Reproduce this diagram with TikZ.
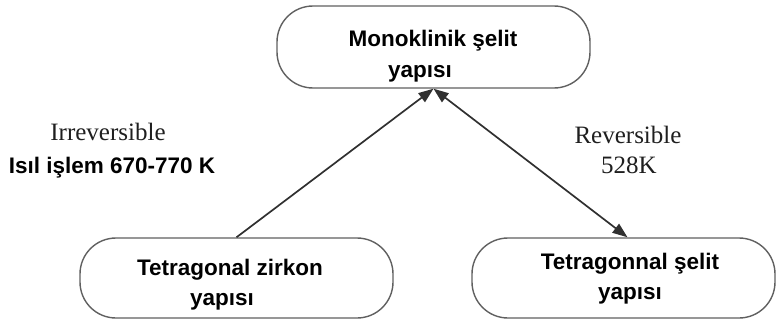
\documentclass[tikz,border=0pt]{standalone}
\usepackage{fontspec}
\setmainfont{Liberation Serif}
\newfontfamily\arialfont{Liberation Sans}
\usetikzlibrary{arrows.meta}
\definecolor{boxline}{HTML}{606060}
\definecolor{arrline}{HTML}{303030}
\begin{document}
\begin{tikzpicture}[x=1pt,y=1pt,
  stagebox/.style={draw=boxline,line width=1.4pt,rounded corners=36pt,inner sep=0pt,fill=white},
  stagetext/.style={font=\arialfont\bfseries\fontsize{22.5}{30}\selectfont,align=center,anchor=base,inner sep=0pt},
  serifnote/.style={font=\fontsize{25}{30}\selectfont,text=black!88,anchor=base,inner sep=0pt},
  boldnote/.style={font=\arialfont\bfseries\fontsize{22.5}{30}\selectfont,anchor=base,inner sep=0pt},
  conn/.style={draw=arrline,line width=1.7pt},
  tip/.tip={Triangle[length=15pt,width=11pt]}]
\useasboundingbox (0,0) rectangle (778,-321);
% boxes
\node[stagebox,minimum width=313pt,minimum height=82pt] (mono) at (433.5,-47) {};
\node[stagebox,minimum width=313pt,minimum height=80pt] (tzir) at (236.5,-278) {};
\node[stagebox,minimum width=303pt,minimum height=80pt] (tsel) at (623.5,-278) {};
% box texts (base anchor = baseline of the last line)
\node[stagetext] (monotext) at (433,-77) {Monoklinik şelit\\yapısı\hspace*{26pt}};
\node[stagetext] (tzirtext) at (230,-305) {Tetragonal zirkon\\yapısı\hspace*{16pt}};
\node[stagetext] (tseltext) at (630,-299) {Tetragonnal şelit\\yapısı};
% notes
\node[serifnote] (irr) at (108,-140) {Irreversible};
\node[boldnote] (isil) at (112,-173) {Isıl işlem 670-770 K};
\node[serifnote] (rev) at (628,-143) {Reversible};
\node[serifnote] (k528) at (629,-173) {528K};
% connectors
\draw[conn,-tip] (tzir.north) -- (mono.south);
\draw[conn,tip-tip] (mono.south) -- ([xshift=4pt]tsel.north);
\end{tikzpicture}
\end{document}
